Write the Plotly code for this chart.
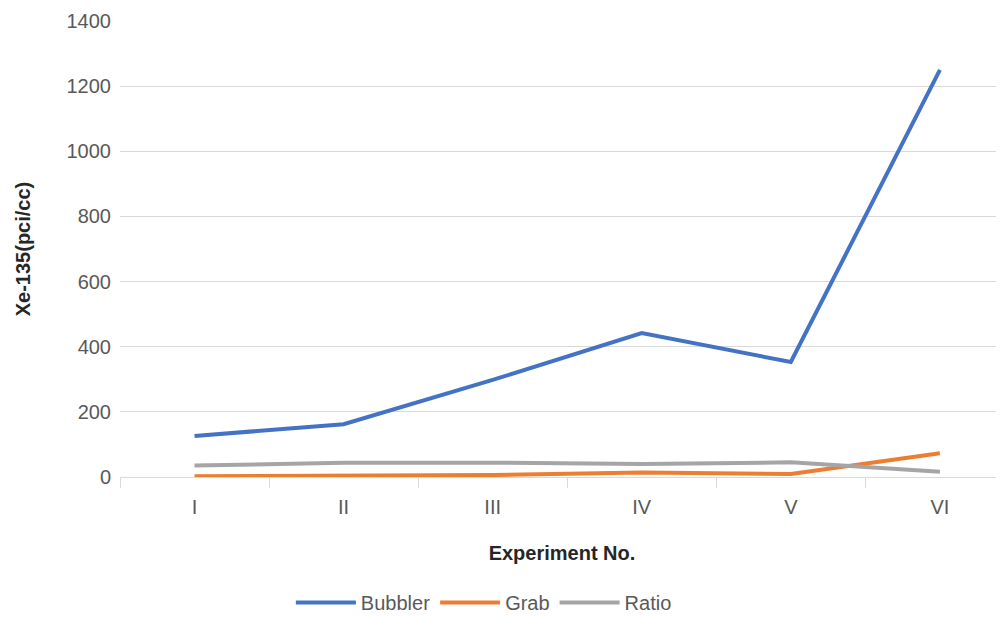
import plotly.graph_objects as go

experiments = ["I", "II", "III", "IV", "V", "VI"]
bubbler = [126, 162, 298, 442, 353, 1250]
grab = [2, 3, 6, 14, 9, 73]
ratio = [35, 44, 44, 40, 45, 16]

fig = go.Figure()
fig.add_trace(go.Scatter(x=experiments, y=bubbler, mode="lines", name="Bubbler",
                         line=dict(color="#4472C4", width=4)))
fig.add_trace(go.Scatter(x=experiments, y=grab, mode="lines", name="Grab",
                         line=dict(color="#ED7D31", width=4)))
fig.add_trace(go.Scatter(x=experiments, y=ratio, mode="lines", name="Ratio",
                         line=dict(color="#A5A5A5", width=4)))

font_family = "Liberation Sans, Arial, sans-serif"
fig.update_layout(
    width=996, height=614,
    margin=dict(l=112, r=0, t=13, b=145),
    paper_bgcolor="white", plot_bgcolor="white",
    font=dict(family=font_family, size=20, color="#595959"),
    xaxis=dict(
        type="category", range=[-0.5, 5.43],
        showgrid=False, showline=True, linecolor="#d9d9d9", linewidth=1,
        ticks="outside", ticklen=10, tickcolor="#d9d9d9", tickson="boundaries",
        ticklabelstandoff=12,
        tickfont=dict(size=20, color="#595959"),
        title=dict(text="<b>Experiment No.</b>", font=dict(size=20, color="#262626"), standoff=28),
        automargin=False,
    ),
    yaxis=dict(
        range=[0, 1400], dtick=200, showgrid=True, gridcolor="#d9d9d9", gridwidth=1,
        zeroline=False, showline=False, ticks="", ticklabelstandoff=8,
        tickfont=dict(size=20, color="#595959"),
        title=dict(text="<b>Xe-135(pci/cc)</b>", font=dict(size=20, color="#262626"), standoff=30),
        automargin=False,
    ),
    legend=dict(orientation="h", xref="container", yref="container",
                x=0.284, xanchor="left", y=0.0, yanchor="bottom",
                font=dict(size=20, color="#595959"), itemwidth=60),
    showlegend=True,
)

fig.write_html("out.html")
